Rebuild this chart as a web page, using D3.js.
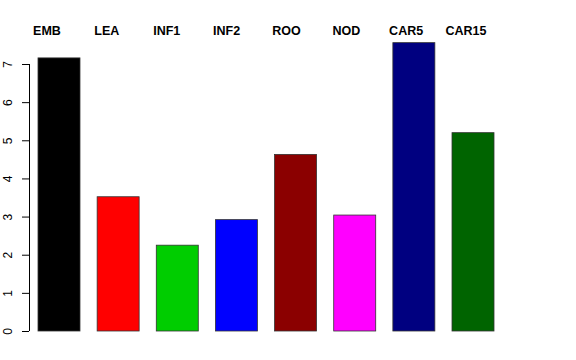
<!DOCTYPE html>
<html>
<head>
<meta charset="utf-8">
<script src="https://cdn.jsdelivr.net/npm/d3@7"></script>
<style>
  body { margin: 0; background: #fff; }
  svg { display: block; font-family: "Liberation Sans", Arial, sans-serif; }
</style>
</head>
<body>
<div id="chart"></div>
<script>
const width = 576;
const height = 360;

// Data
const categories = ["EMB", "LEA", "INF1", "INF2", "ROO", "NOD", "CAR5", "CAR15"];
const values = [7.16, 3.52, 2.25, 2.92, 4.63, 3.04, 7.56, 5.2];
const barColors = ["#000000", "#ff0000", "#00cd00", "#0000ff", "#8b0000", "#ff00ff", "#000080", "#006400"];
const yTicks = [0, 1, 2, 3, 4, 5, 6, 7];

const data = categories.map((c, i) => ({ name: c, value: values[i], color: barColors[i] }));

// Scales
const xScale = d3.scaleBand()
    .domain(categories)
    .range([38, 494])
    .paddingInner(0.29)
    .paddingOuter(0);

const labelScale = d3.scalePoint()
    .domain(categories)
    .range([47, 466]);

const yScale = d3.scaleLinear()
    .domain([0, 7])
    .range([331, 64]);

const svg = d3.select("#chart")
    .append("svg")
    .attr("width", width)
    .attr("height", height);

// Bars
svg.append("g")
    .selectAll("rect")
    .data(data)
    .join("rect")
    .attr("x", d => xScale(d.name))
    .attr("y", d => yScale(d.value))
    .attr("width", xScale.bandwidth())
    .attr("height", d => yScale(0) - yScale(d.value))
    .attr("fill", d => d.color)
    .attr("stroke", "#333")
    .attr("stroke-width", 0.8);

// Category labels along the top
svg.append("g")
    .selectAll("text")
    .data(categories)
    .join("text")
    .attr("x", d => labelScale(d))
    .attr("y", 35)
    .attr("text-anchor", "middle")
    .attr("font-weight", "bold")
    .attr("font-size", 12.5)
    .text(d => d);

// Y axis (R style: vertical labels)
const yAxis = d3.axisLeft(yScale)
    .tickValues(yTicks)
    .tickFormat(d3.format("d"))
    .tickSize(7)
    .tickPadding(0);

const gy = svg.append("g")
    .attr("transform", "translate(29,0)")
    .call(yAxis);

gy.select(".domain")
    .attr("d", `M0.5,${yScale(0)}V${yScale(7)}`)
    .attr("stroke", "#000");

gy.selectAll(".tick line").attr("stroke", "#000");

gy.selectAll(".tick text")
    .attr("x", null)
    .attr("dy", null)
    .attr("text-anchor", "middle")
    .attr("font-size", 12)
    .attr("font-family", "Liberation Sans, Arial, sans-serif")
    .attr("fill", "#000")
    .attr("transform", "translate(-17,0) rotate(-90)");
</script>
</body>
</html>
